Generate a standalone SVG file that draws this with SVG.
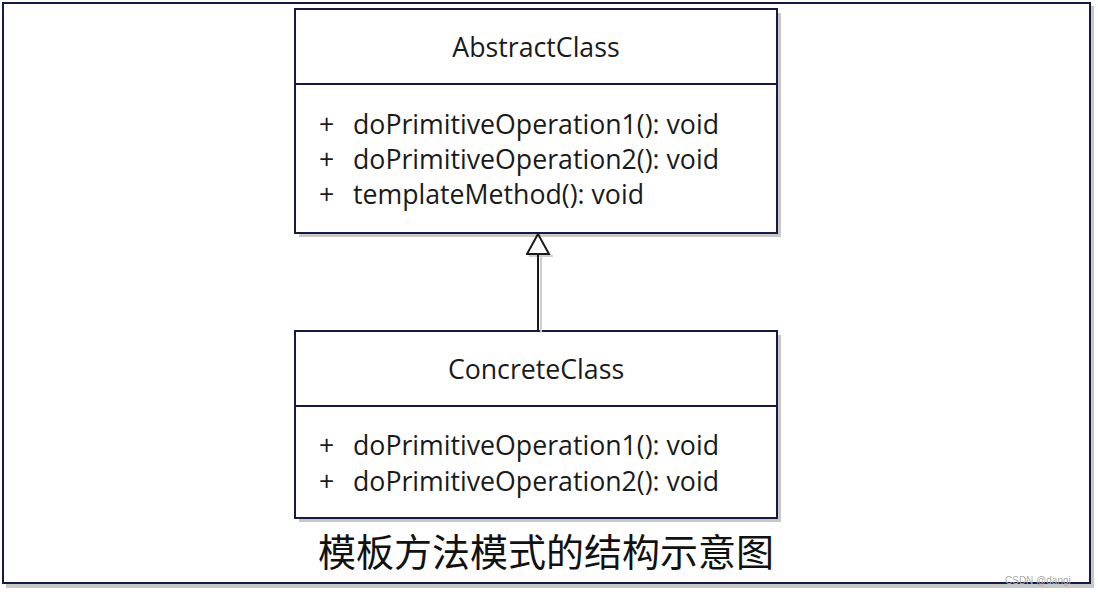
<svg xmlns="http://www.w3.org/2000/svg" width="1098" height="598" viewBox="0 0 1098 598">
<defs>
<style>
.frame{fill:#fff;stroke:#141a44;stroke-width:2}
.shadow{fill:#c8c8c8;stroke:none}
.box{fill:#fff;stroke:#141a44;stroke-width:2}
.div{stroke:#141a44;stroke-width:2}
.t{font-family:"Open Sans","Noto Sans","Liberation Sans",sans-serif;font-size:26.7px;fill:#1a1a1a}
.cap{font-family:"Noto Sans CJK SC",sans-serif;font-size:38px;fill:#111}
.wm{font-family:"Liberation Sans",sans-serif;font-size:10px;fill:#aaa}
</style>
<marker id="inh" markerWidth="26" markerHeight="26" refX="21" refY="12" orient="auto" markerUnits="userSpaceOnUse">
<path d="M21,12 L1,1 L1,23 Z" fill="#fff" stroke="#1a1a1a" stroke-width="2"/>
</marker>
</defs>
<rect width="1098" height="598" fill="#fff"/>
<rect class="shadow" x="6" y="6" width="1088" height="582"/>
<rect class="frame" x="3" y="3" width="1087" height="580"/>
<g id="AbstractClass">
<rect class="shadow" x="299" y="13" width="482" height="224"/>
<rect class="box" x="295" y="9" width="482" height="224"/>
<line class="div" x1="295" y1="84" x2="777" y2="84"/>
<text class="t" x="536" y="57" text-anchor="middle">AbstractClass</text>
<text class="t" x="319" y="134">+</text><text class="t" x="353" y="134">doPrimitiveOperation1(): void</text>
<text class="t" x="319" y="169">+</text><text class="t" x="353" y="169">doPrimitiveOperation2(): void</text>
<text class="t" x="319" y="204">+</text><text class="t" x="353" y="204">templateMethod(): void</text>
</g>
<g id="ConcreteClass">
<rect class="shadow" x="299" y="335" width="482" height="187"/>
<rect class="box" x="295" y="331" width="482" height="187"/>
<line class="div" x1="295" y1="406" x2="777" y2="406"/>
<text class="t" x="536" y="379" text-anchor="middle">ConcreteClass</text>
<text class="t" x="319" y="455">+</text><text class="t" x="353" y="455">doPrimitiveOperation1(): void</text>
<text class="t" x="319" y="491">+</text><text class="t" x="353" y="491">doPrimitiveOperation2(): void</text>
</g>
<g id="connectors">
<path d="M541,254 L541,333 M529,256 L553,256" stroke="#d0d0d0" stroke-width="2" fill="none"/>
<line x1="538" y1="330" x2="538" y2="234" stroke="#1a1a1a" stroke-width="2" marker-end="url(#inh)"/>
</g>
<text class="cap" x="546" y="566" text-anchor="middle">模板方法模式的结构示意图</text>
<text class="wm" x="1005" y="584">CSDN @dangi</text>
</svg>
